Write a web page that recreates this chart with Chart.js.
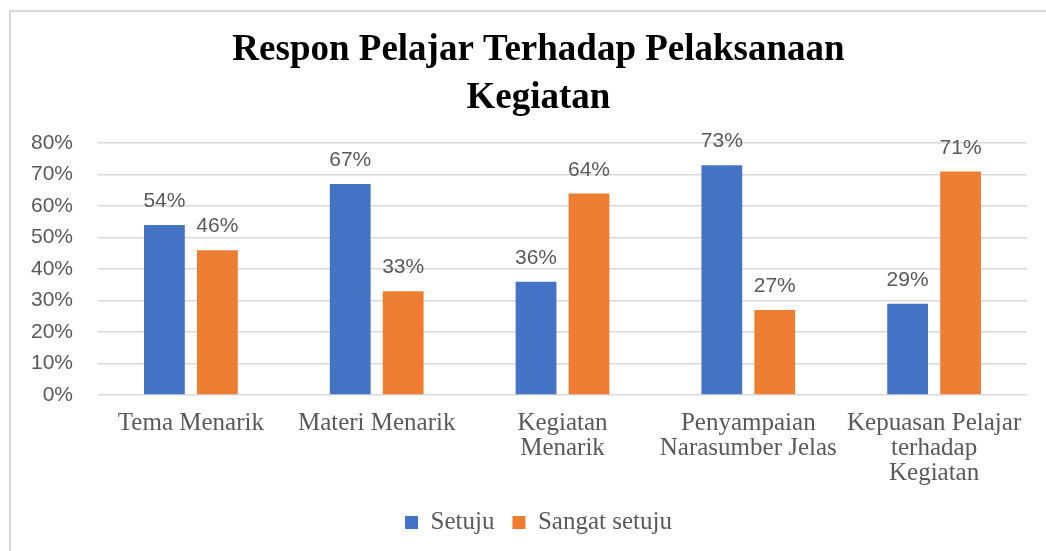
<!DOCTYPE html>
<html>
<head>
<meta charset="utf-8">
<script src="https://cdn.jsdelivr.net/npm/chart.js@4/dist/chart.umd.min.js"></script>
<style>
  html, body { margin: 0; padding: 0; background: #fff; overflow: hidden; }
  #wrap { position: relative; width: 1046px; height: 551px; overflow: hidden; }
  #frame { position: absolute; left: 9px; top: 10px; width: 1100px; height: 600px; border: 2px solid #d9d9d9; box-sizing: border-box; }
  canvas { position: absolute; left: 0; top: 0; }
</style>
</head>
<body>
<div id="wrap">
  <div id="frame"></div>
  <canvas id="c" width="1046" height="551"></canvas>
</div>
<script>
const titleLines = ["Respon Pelajar Terhadap Pelaksanaan", "Kegiatan"];
const categories = [
  "Tema Menarik",
  "Materi Menarik",
  ["Kegiatan", "Menarik"],
  ["Penyampaian", "Narasumber Jelas"],
  ["Kepuasan Pelajar", "terhadap", "Kegiatan"]
];
const seriesNames = ["Setuju", "Sangat setuju"];
const setuju = [54, 67, 36, 73, 29];
const sangatSetuju = [46, 33, 64, 27, 71];
const yTicks = [0, 10, 20, 30, 40, 50, 60, 70, 80];

const dataLabels = {
  id: 'dataLabels',
  afterDatasetsDraw(chart) {
    const ctx = chart.ctx;
    ctx.save();
    ctx.font = '21px "Liberation Sans", Arial, sans-serif';
    ctx.fillStyle = '#595959';
    ctx.textAlign = 'center';
    ctx.textBaseline = 'alphabetic';
    chart.data.datasets.forEach((ds, i) => {
      const meta = chart.getDatasetMeta(i);
      meta.data.forEach((el, j) => {
        ctx.fillText(ds.data[j] + '%', el.x, el.y - 18);
      });
    });
    ctx.restore();
  }
};

// let the y tick labels use the space left of the axis box
const widenYLabelArea = {
  id: 'widenYLabelArea',
  afterLayout(chart) {
    const y = chart.scales.y;
    if (y) { y.left = 0; }
  }
};

new Chart(document.getElementById('c'), {
  type: 'bar',
  data: {
    labels: categories,
    datasets: [
      { label: seriesNames[0], data: setuju, backgroundColor: '#4472c4' },
      { label: seriesNames[1], data: sangatSetuju, backgroundColor: '#ed7d31' }
    ]
  },
  options: {
    responsive: false,
    animation: false,
    devicePixelRatio: 1,
    categoryPercentage: 0.57,
    barPercentage: 0.77,
    layout: { padding: { left: 50, right: 19, top: 10, bottom: 6 } },
    plugins: {
      title: {
        display: true,
        text: titleLines,
        color: '#000',
        font: { family: '"Liberation Serif", "Times New Roman", serif', size: 37, weight: 'bold', lineHeight: 1.3 },
        padding: { top: 16, bottom: 21 }
      },
      legend: {
        position: 'bottom',
        labels: {
          boxWidth: 13,
          boxHeight: 13,
          padding: 18,
          color: '#595959',
          font: { family: '"Liberation Serif", "Times New Roman", serif', size: 25 }
        }
      },
      tooltip: { enabled: false }
    },
    scales: {
      x: {
        grid: { display: false },
        border: { display: false },
        ticks: {
          autoSkip: false,
          maxRotation: 0,
          padding: 8,
          color: '#595959',
          font: { family: '"Liberation Serif", "Times New Roman", serif', size: 25, lineHeight: 1.0 }
        },
        afterFit(s) { s.height = 97; }
      },
      y: {
        min: yTicks[0],
        max: yTicks[yTicks.length - 1],
        afterBuildTicks(s) { s.ticks = yTicks.map(v => ({ value: v })); },
        grid: { color: '#d9d9d9', lineWidth: 1.5, drawTicks: false },
        border: { display: false },
        ticks: {
          padding: 25,
          color: '#595959',
          font: { family: '"Liberation Sans", Arial, sans-serif', size: 21 },
          callback: v => v + '%'
        },
        afterFit(s) { s.width = 48; }
      }
    }
  },
  plugins: [dataLabels, widenYLabelArea]
});
</script>
</body>
</html>
